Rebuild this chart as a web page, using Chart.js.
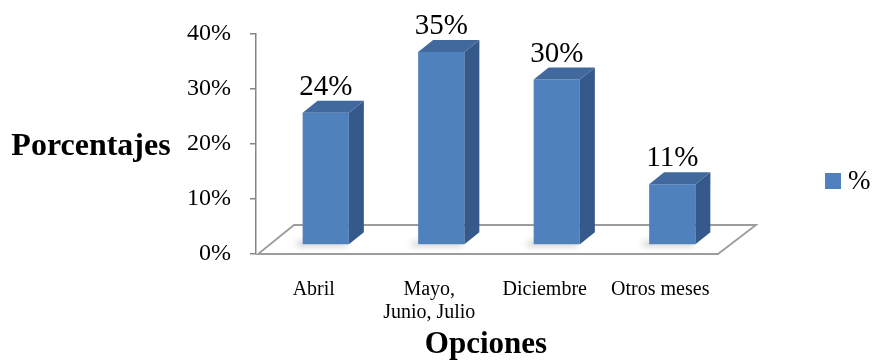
<!DOCTYPE html>
<html>
<head>
<meta charset="utf-8">
<script src="https://cdn.jsdelivr.net/npm/chart.js@4.4.1/dist/chart.umd.min.js"></script>
<style>
  html, body { margin: 0; padding: 0; background: #fff; }
  #wrap { width: 872px; height: 363px; }
</style>
</head>
<body>
<div id="wrap"><canvas id="chart" width="872" height="363"></canvas></div>
<script>
// Encuesta: mes preferido
const categories = ['Abril', ['Mayo,', 'Junio, Julio'], 'Diciembre', 'Otros meses'];
const percentValues = [24, 35, 30, 11];
const yTicks = [0, 10, 20, 30, 40];
const seriesName = '%';

const FONT = '"Liberation Serif", "Times New Roman", serif';
const FRONT = '#4F81BD';
const SIDE = '#35598A';
const TOP = '#41699E';

// depth of each column and of the floor plane
const BAR_DEPTH = { dx: 15, dy: -12 };
const BAR_SHIFT = { dx: 12, dy: -9 };
const FLOOR_DEPTH = { dx: 38, dy: -29 };

const floorPlugin = {
  id: 'floor3d',
  beforeDatasetsDraw(chart) {
    const { ctx, chartArea: a } = chart;
    ctx.save();
    ctx.beginPath();
    ctx.moveTo(a.left + 2, a.bottom);
    ctx.lineTo(a.right, a.bottom);
    ctx.lineTo(a.right + FLOOR_DEPTH.dx, a.bottom + FLOOR_DEPTH.dy);
    ctx.lineTo(a.left + FLOOR_DEPTH.dx, a.bottom + FLOOR_DEPTH.dy);
    ctx.closePath();
    ctx.fillStyle = '#ffffff';
    ctx.fill();
    ctx.strokeStyle = '#9c9c9c';
    ctx.lineWidth = 1.8;
    ctx.stroke();

    // soft shadow on the floor at each column base
    const meta = chart.getDatasetMeta(0);
    meta.data.forEach(bar => {
      const half = bar.width / 2;
      ctx.save();
      ctx.filter = 'blur(3px)';
      ctx.fillStyle = 'rgba(0,0,0,0.2)';
      ctx.fillRect(bar.x - half + BAR_SHIFT.dx - 6, bar.base + BAR_SHIFT.dy - 3, bar.width + 4, 5);
      ctx.restore();
    });
    ctx.restore();

    // columns are drawn a little back into the floor
    ctx.save();
    ctx.translate(BAR_SHIFT.dx, BAR_SHIFT.dy);
  },
  afterDatasetsDraw(chart) {
    const { ctx } = chart;
    const meta = chart.getDatasetMeta(0);
    meta.data.forEach(bar => {
      const l = bar.x - bar.width / 2;
      const r = bar.x + bar.width / 2;
      const t = bar.y;
      const b = bar.base;
      // right side
      ctx.beginPath();
      ctx.moveTo(r, t);
      ctx.lineTo(r + BAR_DEPTH.dx, t + BAR_DEPTH.dy);
      ctx.lineTo(r + BAR_DEPTH.dx, b + BAR_DEPTH.dy);
      ctx.lineTo(r, b);
      ctx.closePath();
      ctx.fillStyle = SIDE;
      ctx.fill();
      // top
      ctx.beginPath();
      ctx.moveTo(l, t);
      ctx.lineTo(r, t);
      ctx.lineTo(r + BAR_DEPTH.dx, t + BAR_DEPTH.dy);
      ctx.lineTo(l + BAR_DEPTH.dx, t + BAR_DEPTH.dy);
      ctx.closePath();
      ctx.fillStyle = TOP;
      ctx.fill();
    });
    ctx.restore();

    // value labels above the columns
    ctx.save();
    ctx.font = '29px ' + FONT;
    ctx.fillStyle = '#000';
    ctx.textAlign = 'center';
    ctx.textBaseline = 'alphabetic';
    meta.data.forEach((bar, i) => {
      ctx.fillText(percentValues[i] + '%', bar.x + BAR_SHIFT.dx, bar.y + BAR_SHIFT.dy - 18);
    });
    ctx.restore();
  },
  afterDraw(chart) {
    const { ctx } = chart;
    ctx.save();
    ctx.fillStyle = '#000';
    ctx.textAlign = 'center';
    ctx.textBaseline = 'alphabetic';
    ctx.font = 'bold 32px ' + FONT;
    ctx.fillText('Porcentajes', 91, 155);
    ctx.font = 'bold 31px ' + FONT;
    ctx.fillText('Opciones', 486, 353);

    // legend
    ctx.fillStyle = FRONT;
    ctx.fillRect(825, 173, 16, 16);
    ctx.fillStyle = '#000';
    ctx.font = '27px ' + FONT;
    ctx.textAlign = 'left';
    ctx.textBaseline = 'middle';
    ctx.fillText(seriesName, 848, 182);
    ctx.restore();
  }
};

new Chart(document.getElementById('chart').getContext('2d'), {
  type: 'bar',
  data: {
    labels: categories,
    datasets: [{
      label: seriesName,
      data: percentValues,
      backgroundColor: FRONT,
      borderWidth: 0,
      categoryPercentage: 0.8,
      barPercentage: 0.5
    }]
  },
  options: {
    responsive: false,
    animation: false,
    layout: { padding: { top: 31, right: 154, bottom: 0, left: 0 } },
    plugins: {
      legend: { display: false },
      tooltip: { enabled: false }
    },
    scales: {
      x: {
        grid: { display: false },
        border: { display: false },
        ticks: {
          color: '#000',
          padding: 16,
          maxRotation: 0,
          autoSkip: false,
          font: { family: FONT, size: 20, lineHeight: 1.15 }
        },
        afterFit(scale) { scale.height = 109; }
      },
      y: {
        min: yTicks[0],
        max: yTicks[yTicks.length - 1],
        afterBuildTicks(scale) { scale.ticks = yTicks.map(v => ({ value: v })); },
        grid: {
          drawOnChartArea: false,
          drawTicks: true,
          tickLength: 6,
          color: '#868686',
          lineWidth: 1.5
        },
        border: { display: true, color: '#868686', width: 1.5 },
        ticks: {
          color: '#000',
          padding: 19,
          font: { family: FONT, size: 24 },
          callback: v => v + '%'
        },
        afterFit(scale) { scale.width = 256; }
      }
    }
  },
  plugins: [floorPlugin]
});
</script>
</body>
</html>
